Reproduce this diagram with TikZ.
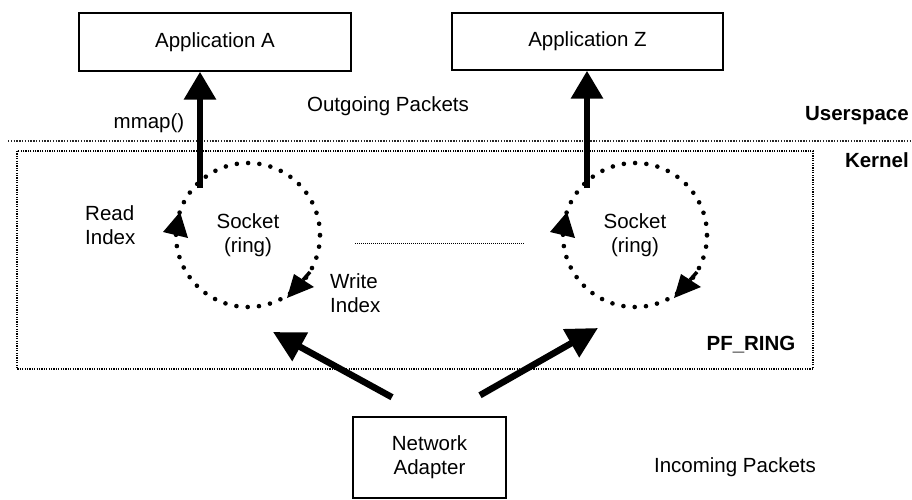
\documentclass[tikz,border=0pt]{standalone}
\usepackage{fontspec}
\setmainfont{Liberation Sans}
\usetikzlibrary{arrows.meta,calc}
\begin{document}
\begin{tikzpicture}[x=1pt,y=-1pt,
  every node/.style={font=\fontsize{20.5}{24}\selectfont},
  box/.style={draw, line width=1.5pt, inner sep=0pt, align=center},
  label/.style={inner sep=0pt, align=center},
  bold/.style={inner sep=0pt, font=\fontsize{20.5}{24}\selectfont\bfseries},
  bigarrow/.style={line width=6.5pt, -{Triangle[length=28pt,width=31pt]}},
  diagarrow/.style={line width=6.5pt, -{Triangle[length=31pt,width=31pt]}},
  ring/.style={circle, minimum size=144pt, inner sep=0pt, draw, line width=4.6pt,
               line cap=round, dash pattern=on 0pt off 11.3pt, align=center},
  sep/.style={line width=2.2pt, dash pattern=on 1.4pt off 1.4pt, black!85},
  frame/.style={line width=1.5pt, dash pattern=on 1.2pt off 1.2pt},
  faint/.style={line width=0.9pt, dash pattern=on 1pt off 1pt}
]
\useasboundingbox (0,0) rectangle (912,500);

% separator and PF_RING frame
\coordinate (sepL) at (8,141);
\coordinate (sepR) at (912,141);
\draw[sep] (sepL) -- (sepR);
\coordinate (frNW) at (17,151);
\coordinate (frSE) at (813,369);
\draw[frame] (frNW) rectangle (frSE);

% boxes
\node[box, minimum width=272pt, minimum height=58pt] (appA) at (215,42) {Application A};
\node[box, minimum width=271pt, minimum height=57pt] (appZ) at (587.5,41.5) {Application Z};
\node[box, minimum width=153pt, minimum height=81pt] (na) at (429.5,457.5) {Network\\Adapter};

% rings
\node[ring] (cA) at (248,235) {Socket\\(ring)};
\node[ring] (cZ) at (635,235) {Socket\\(ring)};

% ring arrowheads
\foreach \r in {cA,cZ}{
  \begin{scope}[shift={(\r.center)}]
    \fill (-85,-3) -- (-68,-23) -- (-60,3) -- cycle;
    \draw[line width=3.5pt] (62,37) -- (55,45);
    \fill (39,63) -- (46,39) -- (66,52) -- cycle;
  \end{scope}
}

% dotted link between rings
\coordinate (mL) at (355,243);
\coordinate (mR) at (525,243);
\draw[faint] (mL) -- (mR);

% mmap arrows
\coordinate (tA) at ($(cA.center)+(-48,-47)$);
\coordinate (tZ) at ($(cZ.center)+(-48,-47)$);
\draw[bigarrow] (tA) -- (tA |- appA.south);
\draw[bigarrow] (tZ) -- (tZ |- appZ.south);

% incoming arrows
\coordinate (hA) at (273,332);
\coordinate (hZ) at (598,328);
\draw[diagarrow] ($(na.north)+(-37.5,-19)$) -- (hA);
\draw[diagarrow] ($(na.north)+(50.5,-21)$) -- (hZ);

% labels
\node[label] (mmap) at (149,123) {mmap()};
\node[label] (out) at (388,106) {Outgoing Packets};
\node[label] (inc) at (735,467) {Incoming Packets};
\node[label, align=left, anchor=west] (read) at (85,225) {Read\\Index};
\node[label, align=left, anchor=west] (write) at (330,293) {Write\\Index};
\node[bold, anchor=east] (user) at (909,116) {Userspace};
\node[bold, anchor=east] (kern) at (909,160) {Kernel};
\node[bold] (pf) at (751,345) {PF\_RING};
\end{tikzpicture}
\end{document}
